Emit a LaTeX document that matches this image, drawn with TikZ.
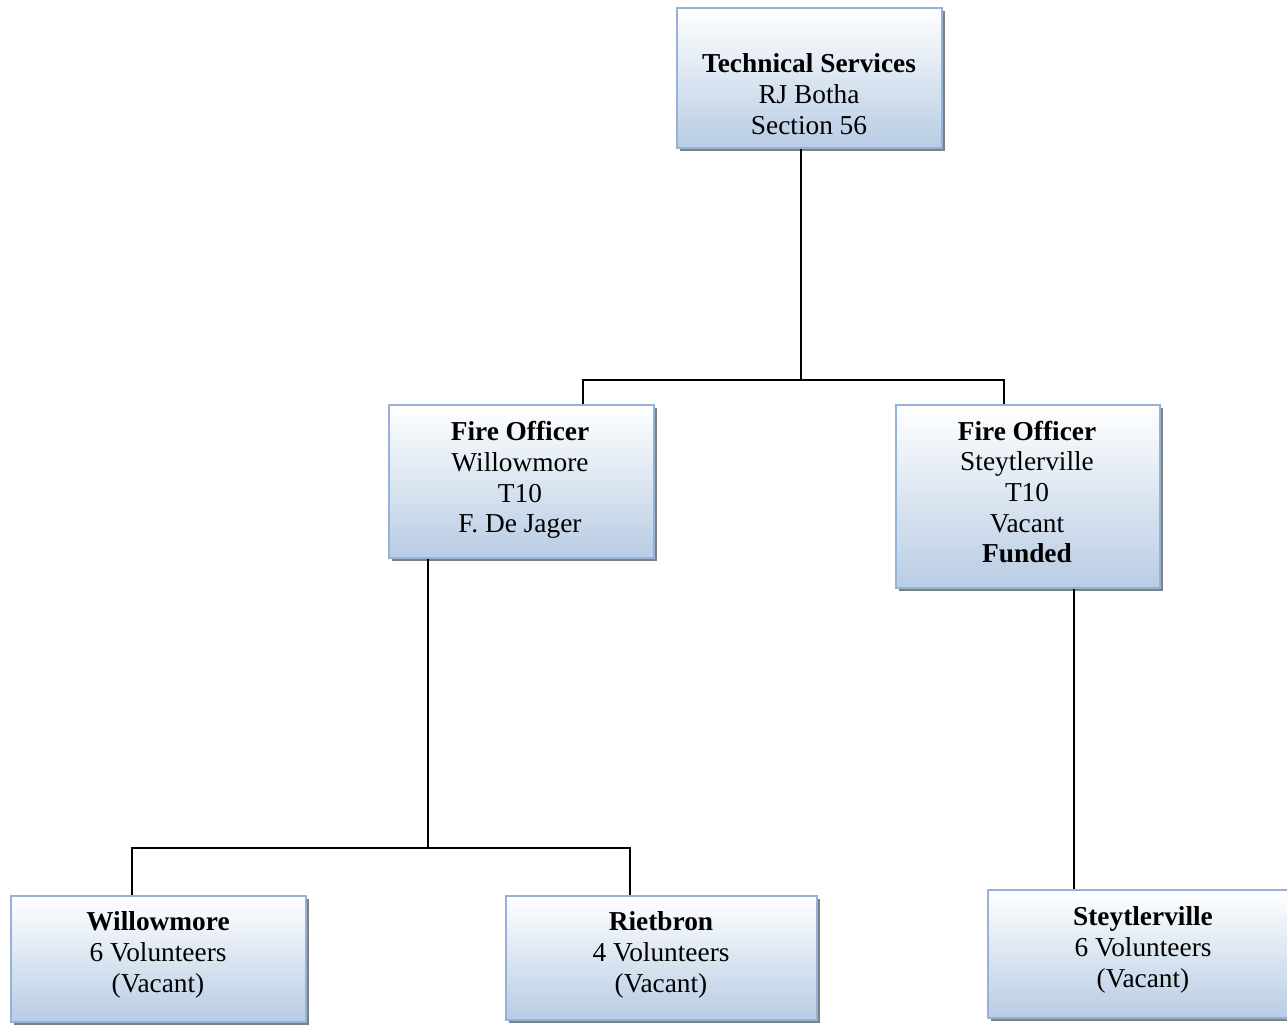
\documentclass[tikz,border=0pt]{standalone}
\usepackage{fontspec}
\setmainfont{Liberation Serif}
\usetikzlibrary{shadows}
\definecolor{boxline}{RGB}{149,179,215}
\definecolor{boxfill}{RGB}{184,204,228}
\newdimen\px \px=0.75pt
\tikzset{
    orgbox/.style={draw=boxline, line width=1.5\px, top color=white, bottom color=boxfill,
        drop shadow={shadow xshift=3\px, shadow yshift=-3\px, fill=black!50, opacity=1}},
    orgtext/.style={align=center, font=\fontsize{20.5}{23}\selectfont, inner sep=0pt},
    conn/.style={line width=2\px, black}
}
\begin{document}
\begin{tikzpicture}[x=\px, y=-\px]
                \useasboundingbox (0,0) rectangle (1287,1025);
                % boxes
                \node(tech_s) at(809.5, 78) [orgbox, minimum width=265\px, minimum height=140\px] {};
                \node(fo_w) at(521.5, 481.5) [orgbox, minimum width=265\px, minimum height=153\px] {};
                \node(fo_s) at(1028, 496.5) [orgbox, minimum width=264\px, minimum height=183\px] {};
                \node(vol_w) at(158.5, 959) [orgbox, minimum width=295\px, minimum height=126\px] {};
                \node(vol_r) at(661.5, 958) [orgbox, minimum width=311\px, minimum height=124\px] {};
                \node(vol_s) at(1143, 954) [orgbox, minimum width=310\px, minimum height=128\px] {};
                % texts
                \node(tech_t) at(809, 94) [orgtext] {\textbf{Technical Services}\\RJ Botha\\Section 56};
                \node(fo_w_t) at(520, 480) [orgtext] {\textbf{Fire Officer}\\Willowmore\\T10\\F. De Jager};
                \node(fo_s_t) at(1027, 492) [orgtext] {\textbf{Fire Officer}\\Steytlerville\\T10\\Vacant\\\textbf{Funded}};
                \node(vol_w_t) at(158, 955) [orgtext] {\textbf{Willowmore}\\6 Volunteers\\(Vacant)};
                \node(vol_r_t) at(661, 955) [orgtext] {\textbf{Rietbron}\\4 Volunteers\\(Vacant)};
                \node(vol_s_t) at(1143, 950) [orgtext] {\textbf{Steytlerville}\\6 Volunteers\\(Vacant)};
                % connectors
                \coordinate(bus_t) at(801, 380);
                \coordinate(bus_w) at(428, 848);
                \draw[conn] (tech_s.south -| bus_t) -- (bus_t);
                \draw[conn] (fo_w.north -| 583,0) |- (bus_t) -| (fo_s.north -| 1004,0);
                \draw[conn] (fo_w.south -| bus_w) -- (bus_w);
                \draw[conn] (vol_w.north -| 132,0) |- (bus_w) -| (vol_r.north -| 630,0);
                \draw[conn] (fo_s.south -| 1074,0) -- (vol_s.north -| 1074,0);
            \end{tikzpicture}
\end{document}
